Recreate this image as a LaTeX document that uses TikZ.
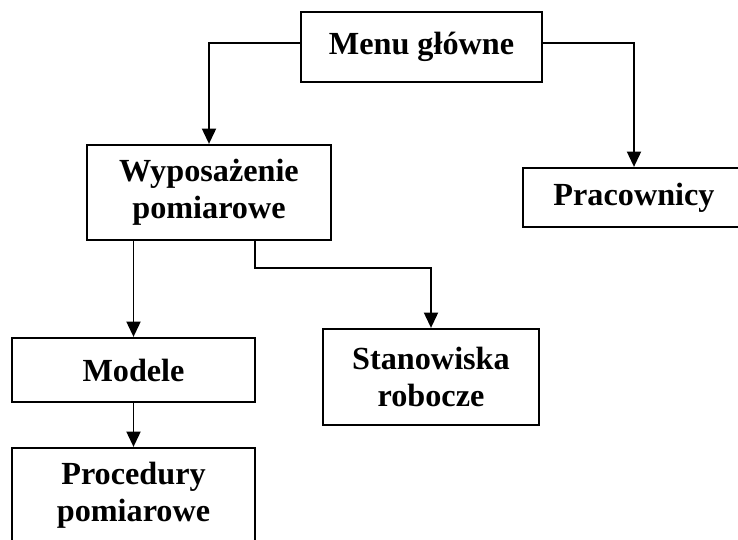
\documentclass[tikz,border=0pt]{standalone}
\usepackage{fontspec}
\setmainfont{Liberation Serif}
\usetikzlibrary{arrows.meta,positioning}

\begin{document}
\begin{tikzpicture}[x=0.03cm,y=-0.03cm]
\tikzset{
  menubox/.style={draw,line width=1.9pt,align=center,inner sep=0pt,
    font=\fontsize{27.5}{32}\selectfont\bfseries},
  arr/.style={line width=1.7pt,-{Triangle[length=0.46cm,width=0.42cm]}}
}
\useasboundingbox (0,0) rectangle (738,540);
% boxes
\node[menubox,minimum width=7.23cm,minimum height=2.1cm] (menu) at (421.5,47) {Menu główne};
\node[menubox,minimum width=7.32cm,minimum height=2.85cm] (wypos) at (209,192.5) {Wyposażenie\\pomiarowe};
\node[menubox,minimum width=6.66cm,minimum height=1.77cm] (prac) at (634,197.5) {Pracownicy};
\node[menubox,minimum width=7.29cm,minimum height=1.92cm] (modele) at (133.5,370) {Modele};
\node[menubox,minimum width=6.48cm,minimum height=2.88cm] (stan) at (431,377) {Stanowiska\\robocze};
\node[menubox,minimum width=7.29cm,minimum height=2.82cm] (proc) at (133.5,495) {Procedury\\pomiarowe};
% links
\coordinate (elbow) at (432,268);
\draw[arr] ([yshift=3.4pt]menu.west) -| (wypos.north);
\draw[arr] ([yshift=3.4pt]menu.east) -| (prac.north);
\draw[arr] (wypos.south -| modele.north) -- (modele.north);
\draw[arr] ([xshift=1.38cm]wypos.south) |- (stan.north |- elbow) -- (stan.north);
\draw[arr] (modele.south) -- (proc.north);
\end{tikzpicture}
\end{document}
